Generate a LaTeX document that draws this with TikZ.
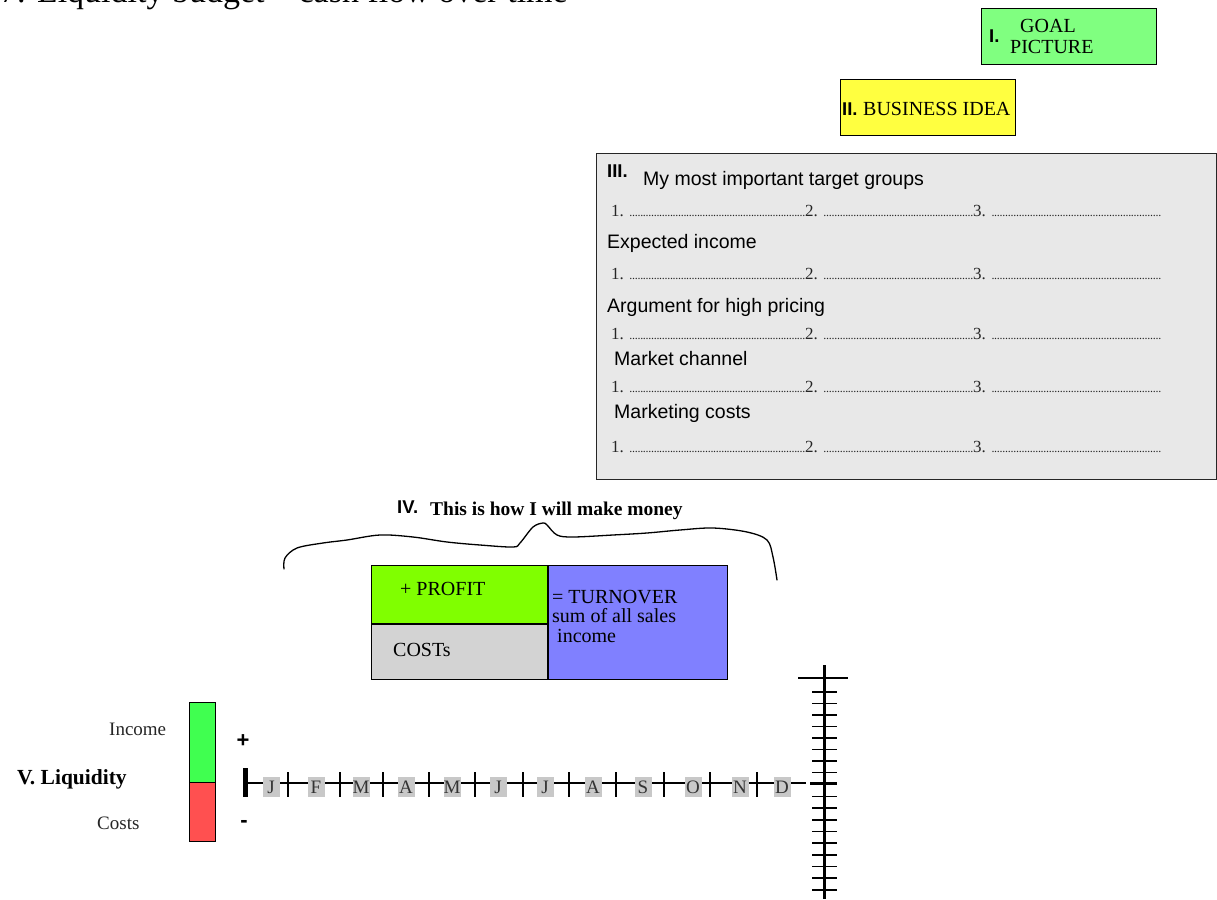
\documentclass[tikz,border=0pt]{standalone}
\usepackage{fontspec}
\setmainfont{Liberation Serif}
\setsansfont{Liberation Sans}
\definecolor{goalgreen}{RGB}{128,255,128}
\definecolor{ideayellow}{RGB}{255,255,64}
\definecolor{panelgray}{RGB}{232,232,232}
\definecolor{profitgreen}{RGB}{128,255,0}
\definecolor{costgray}{RGB}{211,211,211}
\definecolor{turnblue}{RGB}{128,128,255}
\definecolor{incgreen}{RGB}{64,255,80}
\definecolor{costred}{RGB}{255,80,80}
\definecolor{monthgray}{RGB}{200,200,200}
\newcommand\mydots{\xleaders\hbox to 2.7pt{\hss\fontsize{12}{12}\selectfont.\hss}\hfill}
\newcommand\dotrow{\makebox[194pt][l]{1. \mydots}\makebox[168pt][l]{2. \mydots}\makebox[188pt][l]{3. \mydots}}
\tikzset{
  box/.style={draw=black, line width=1.2pt, inner sep=0pt, anchor=north west},
  serif/.style={font=\fontsize{20}{22}\selectfont, inner sep=0pt, anchor=base west},
  sansl/.style={font=\sffamily\fontsize{19.5}{22}\selectfont, inner sep=0pt, anchor=base west},
  roman/.style={font=\sffamily\bfseries\fontsize{18.5}{20}\selectfont, inner sep=0pt, anchor=base west},
  rowtxt/.style={font=\fontsize{17}{19}\selectfont, inner sep=0pt, anchor=base west, text=black!85},
  month/.style={fill=monthgray, inner sep=0pt, minimum width=17pt, minimum height=20pt, text=black!80,
    font=\fontsize{19}{19}\selectfont},
  tick/.style={line width=1.3pt},
}
\begin{document}
\begin{tikzpicture}[x=1pt, y=-1pt]
\useasboundingbox (0,0) rectangle (1217,899);
\clip (0,0) rectangle (1217,899);
% title (cut off at top, as in the reference)
\node[font=\fontsize{34}{36}\selectfont, inner sep=0pt, anchor=base west] (title) at (0,2.5) {7. Liquidity budget – cash flow over time};

% I. Goal picture
\node[box, fill=goalgreen, minimum width=175pt, minimum height=56pt] (goal) at (981,8) {};
\node[roman] (goalnum) at (989,43) {I.};
\node[serif] (goalt1) at (1020,33) {GOAL};
\node[serif] (goalt2) at (1010,53) {PICTURE};

% II. Business idea
\node[box, fill=ideayellow, minimum width=175pt, minimum height=56pt] (idea) at (840,79) {};
\node[roman] (ideanum) at (842,115) {II.};
\node[serif] (ideat) at (863,115) {BUSINESS IDEA};

% III. Panel
\node[box, draw=black!85, fill=panelgray, minimum width=620pt, minimum height=326pt] (panel) at (596,153) {};
\node[roman] (pnum) at (607,177) {III.};
\node[sansl] (p1) at (643,185) {My most important target groups};
\node[rowtxt] (r1) at (611,216) {\dotrow};
\node[sansl] (p2) at (607,248) {Expected income};
\node[rowtxt] (r2) at (611,279) {\dotrow};
\node[sansl] (p3) at (607,312) {Argument for high pricing};
\node[rowtxt] (r3) at (611,339) {\dotrow};
\node[sansl] (p4) at (614,365) {Market channel};
\node[rowtxt] (r4) at (611,392) {\dotrow};
\node[sansl] (p5) at (614,418) {Marketing costs};
\node[rowtxt] (r5) at (611,452) {\dotrow};

% IV. Money
\node[roman] (mnum) at (397,513) {IV.};
\node[serif, font=\bfseries\fontsize{19.5}{22}\selectfont] (mtitle) at (430,515) {This is how I will make money};
\draw[line width=1.3pt, line cap=round, line join=round] plot[smooth, tension=0.55] coordinates {
 (284,569) (285,558) (297,548) (323,543) (347,540) (380,535) (413,537) (447,542) (480,545)
 (513,547) (520,543) (533,527) (543,523) (547,525) (557,535) (573,537) (613,535) (647,533)
 (680,530) (713,528) (747,532) (767,540) (773,557) (777,580)};
\node[box, line width=1pt, fill=profitgreen, minimum width=176pt, minimum height=58pt] (profit) at (371,565) {};
\node[box, line width=1pt, fill=costgray, minimum width=176pt, minimum height=56pt] (costs) at (371,623) {};
\node[box, line width=1pt, fill=turnblue, minimum width=180pt, minimum height=114pt] (turn) at (547,565) {};
\draw[line width=2.6pt] (profit.north east) -- (costs.south east);
\draw[line width=2.6pt] (profit.south west) -- (profit.south east);
\node[serif] (profitt) at (400,595) {+ PROFIT};
\node[serif] (costst) at (393,656) {COSTs};
\node[serif] (turnt1) at (552,603) {= TURNOVER};
\node[serif] (turnt2) at (552,622) {sum of all sales};
\node[serif] (turnt3) at (552,642) {\ income};

% V. Liquidity
\node[serif, text=black!85, font=\fontsize{19}{21}\selectfont] (inct) at (109,735) {Income};
\node[serif, font=\bfseries\fontsize{21.5}{23}\selectfont] (liq) at (17,784) {V. Liquidity};
\node[serif, text=black!85, font=\fontsize{19}{21}\selectfont] (costt) at (97,829) {Costs};
\node[box, fill=incgreen, minimum width=26pt, minimum height=80pt] (incbar) at (189,702) {};
\node[box, fill=costred, minimum width=26pt, minimum height=59pt] (costbar) at (189,782) {};
\node[font=\sffamily\bfseries\fontsize{22}{22}\selectfont, inner sep=0pt] (plus) at (243,741) {+};
\node[font=\sffamily\bfseries\fontsize{22}{22}\selectfont, inner sep=0pt] (minus) at (244,824) {-};

% time axis
\coordinate (ax0) at (246,783);
\coordinate (ax1) at (806,783);
\draw[line width=2pt] (ax0) -- (ax1);
\draw[line width=5pt] (245,768) -- (245,797);
\foreach \x in {288,340,383,429,475,523,569,616,664,710,757}
  \draw[tick] (\x,772) -- (\x,797);
\foreach \x/\m/\n in {271/J/m1,316/F/m2,361/M/m3,406/A/m4,452/M/m5,498/J/m6,545/J/m7,593/A/m8,643/S/m9,693/O/m10,740/N/m11,782/D/m12}
  \node[month] (\n) at (\x,787) {\m};

% vertical scale
\coordinate (vtop) at (824,665);
\coordinate (vbot) at (824,899);
\draw[line width=3pt] (vtop) -- (vbot);
\draw[line width=2.5pt] (798,678) -- (848,678);
\foreach \y in {692,703.5,715,726.5,738,749.5,761,772.5,796.5,808,820,831.5,843,855,866.5,878,890}
  \draw[line width=1.6pt] (812,\y) -- (837,\y);
\draw[line width=2.6pt] (810,783.5) -- (837,783.5);
\end{tikzpicture}
\end{document}
